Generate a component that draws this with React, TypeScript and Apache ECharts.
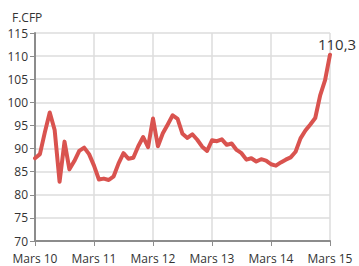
import React, { useEffect, useRef } from "react";
import * as echarts from "echarts";

const yearLabels = ["Mars 10", "Mars 11", "Mars 12", "Mars 13", "Mars 14", "Mars 15"];
const monthsPerYear = 12;
const values = [
  87.9, 88.8, 93.5, 97.8, 94.0, 82.8, 91.5, 85.5, 87.3, 89.5, 90.2, 88.8,
  86.3, 83.3, 83.5, 83.2, 84.0, 86.8, 89.0, 87.8, 88.0, 90.5, 92.5, 90.3,
  96.5, 90.5, 93.3, 95.2, 97.2, 96.4, 93.2, 92.3, 93.1, 91.9, 90.4, 89.5,
  91.8, 91.6, 92.0, 90.8, 91.1, 89.7, 89.0, 87.6, 87.9, 87.2, 87.7, 87.4,
  86.6, 86.3, 87.0, 87.6, 88.1, 89.3, 92.2, 93.9, 95.2, 96.6, 101.5, 104.8,
  110.3,
];
const unitLabel = "F.CFP";
const yMin = 70;
const yMax = 115;
const yStep = 5;

const categories = values.map((_, i) =>
  i % monthsPerYear === 0 ? yearLabels[i / monthsPerYear] : "m" + i
);

export default function App() {
  const ref = useRef<HTMLDivElement>(null);
  useEffect(() => {
    document.body.style.margin = "0";
    const chart = echarts.init(ref.current!, null, { renderer: "svg" });
    const font = "'Open Sans', sans-serif";
    const yearOnly = (i: number) => i % monthsPerYear === 0;
    chart.setOption({
      animation: false,
      grid: { left: 35, right: 29, top: 33, bottom: 25 },
      title: {
        text: unitLabel,
        left: 7,
        top: 6,
        textStyle: { fontFamily: font, fontSize: 12, fontWeight: "normal", color: "#333" },
      },
      xAxis: {
        type: "category",
        data: categories,
        boundaryGap: false,
        axisLine: { lineStyle: { color: "#8c8c8c", width: 2 } },
        axisTick: { interval: (i: number) => yearOnly(i), length: 5, lineStyle: { color: "#8c8c8c" } },
        axisLabel: {
          interval: (i: number) => yearOnly(i),
          color: "#333",
          fontFamily: font,
          fontSize: 12,
          margin: 11,
        },
        splitLine: { show: true, interval: (i: number) => yearOnly(i), lineStyle: { color: "#dcdcdc", width: 1.5 } },
      },
      yAxis: {
        type: "value",
        min: yMin,
        max: yMax,
        interval: yStep,
        axisLine: { show: true, lineStyle: { color: "#8c8c8c", width: 2 } },
        axisTick: { show: true, length: 5, lineStyle: { color: "#8c8c8c" } },
        axisLabel: { color: "#333", fontFamily: font, fontSize: 12, margin: 7 },
        splitLine: { show: true, lineStyle: { color: "#dcdcdc", width: 1.5 } },
      },
      series: [
        {
          type: "line",
          data: values,
          showSymbol: false,
          symbol: "none",
          lineStyle: { color: "#d9534f", width: 4, cap: "round", join: "round" },
          endLabel: {
            show: true,
            formatter: (p: any) => String(p.value).replace(".", ","),
            fontFamily: font,
            fontSize: 15,
            color: "#333",
            align: "center",
            verticalAlign: "bottom",
            distance: 0,
            offset: [7, -3],
          },
        },
      ],
    });
    return () => chart.dispose();
  }, []);
  return <div ref={ref} style={{ width: 359, height: 266 }} />;
}
